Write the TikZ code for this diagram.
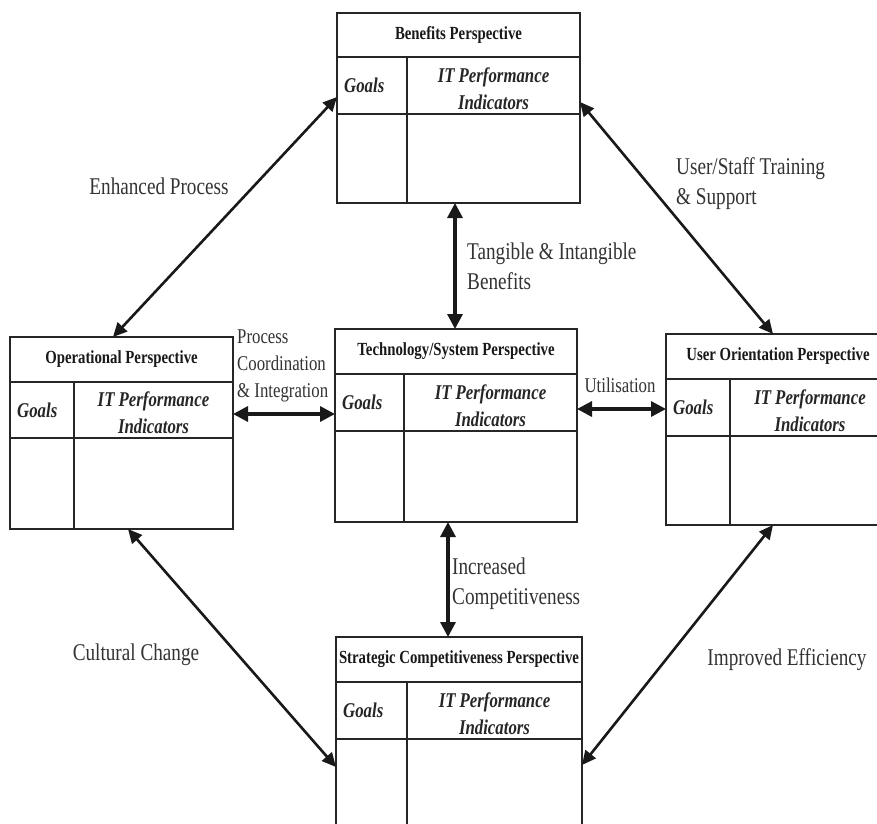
\documentclass[tikz,border=0pt]{standalone}
\usepackage{fontspec}
\setmainfont{Liberation Serif}[FakeStretch=0.8]
\usetikzlibrary{arrows.meta,fit}
\tikzset{
 boxfr/.style={draw=black!85, line width=1.8pt, inner sep=0pt, outer sep=0pt},
 gridln/.style={draw=black!85, line width=1.8pt},
 ptitle/.style={inner sep=0pt, font=\fontsize{18.5}{22}\selectfont\bfseries, text=black!90},
 goalsty/.style={inner sep=0pt, font=\fontsize{21}{27}\selectfont\bfseries\itshape, text=black!85},
 indsty/.style={inner sep=0pt, align=center, font=\fontsize{21}{27}\selectfont\bfseries\itshape, text=black!85},
 lab/.style={inner sep=0pt, align=left, font=\fontsize{24}{30}\selectfont, text=black!80},
 slab/.style={inner sep=0pt, align=left, font=\fontsize{21}{27}\selectfont, text=black!80},
 link/.style={{Triangle[length=15pt,width=15pt]}-{Triangle[length=15pt,width=15pt]}, line width=3.2pt, draw=black!90},
 dlink/.style={{Triangle[length=14pt,width=13pt]}-{Triangle[length=14pt,width=13pt]}, line width=2.6pt, draw=black!90},
}
% name, L, R, T, t1, t2, B, D, title
\newcommand\perspbox[9]{%
 \node[boxfr, fit={(#2,#4) (#3,#7)}] (#1) {};
 \draw[gridln] (#2,#5) -- (#3,#5) (#2,#6) -- (#3,#6) (#8,#5) -- (#8,#7);
 \node[ptitle] (#1-title) at ({(#2+#3)/2},{(#4+#5)/2}) {#9};
 \node[goalsty, anchor=west] (#1-goals) at (#2+7,{(#5+#6)/2}) {Goals};
 \node[indsty] (#1-ind) at ({(#8+#3)/2},{(#5+#6)/2+3}) {IT Performance\\Indicators};
}
\begin{document}
\begin{tikzpicture}[x=1pt,y=-1pt]
\useasboundingbox (0,0) rectangle (877,823);
\fill[white] (0,0) rectangle (877,823);
\clip (0,0) rectangle (877,823);

\perspbox{ben}{337}{580}{13}{57}{114}{203}{407}{Benefits Perspective}
\perspbox{op}{10}{233}{337}{382}{438}{529}{74}{Operational Perspective}
\perspbox{tech}{335}{577}{329}{374}{431}{522}{404}{Technology/System Perspective}
\perspbox{usr}{666}{890}{334}{379}{436}{525}{730}{User Orientation Perspective}
\perspbox{str}{336}{582}{637}{682}{739}{845}{407}{Strategic Competitiveness Perspective}

% connector end points on the box edges
\coordinate (benW) at (ben.west |- 0,97);
\coordinate (benE) at (ben.east |- 0,102);
\coordinate (benS) at (455,0 |- ben.south);
\coordinate (opN) at (113,0 |- op.north);
\coordinate (opE) at (op.east |- 0,414);
\coordinate (opS) at (128,0 |- op.south);
\coordinate (techN) at (455,0 |- tech.north);
\coordinate (techW) at (tech.west |- 0,414);
\coordinate (techE) at (tech.east |- 0,409);
\coordinate (techS) at (448,0 |- tech.south);
\coordinate (usrN) at (773,0 |- usr.north);
\coordinate (usrW) at (usr.west |- 0,409);
\coordinate (usrS) at (773,0 |- usr.south);
\coordinate (strN) at (448,0 |- str.north);
\coordinate (strW) at (str.west |- 0,767);
\coordinate (strE) at (str.east |- 0,765);

\draw[dlink] (opN) -- (benW);
\draw[dlink] (benE) -- (usrN);
\draw[link] (benS) -- (techN);
\draw[link] (opE) -- (techW);
\draw[link] (techE) -- (usrW);
\draw[link] (techS) -- (strN);
\draw[dlink] (opS) -- (strW);
\draw[dlink] (usrS) -- (strE);

\node[lab] (l-enh) at (159,186) {Enhanced Process};
\node[lab, anchor=west] (l-tan) at (467,266) {Tangible \& Intangible\\Benefits};
\node[lab, anchor=west] (l-usr) at (676,184) {User/Staff Training\\\& Support};
\node[slab, anchor=west] (l-proc) at (237,366) {Process\\Coordination\\\& Integration};
\node[slab] (l-util) at (620,385) {Utilisation};
\node[lab, anchor=west] (l-inc) at (452,584) {Increased\\Competitiveness};
\node[lab] (l-cul) at (136,655) {Cultural Change};
\node[lab] (l-imp) at (787,660) {Improved Efficiency};
\end{tikzpicture}
\end{document}
